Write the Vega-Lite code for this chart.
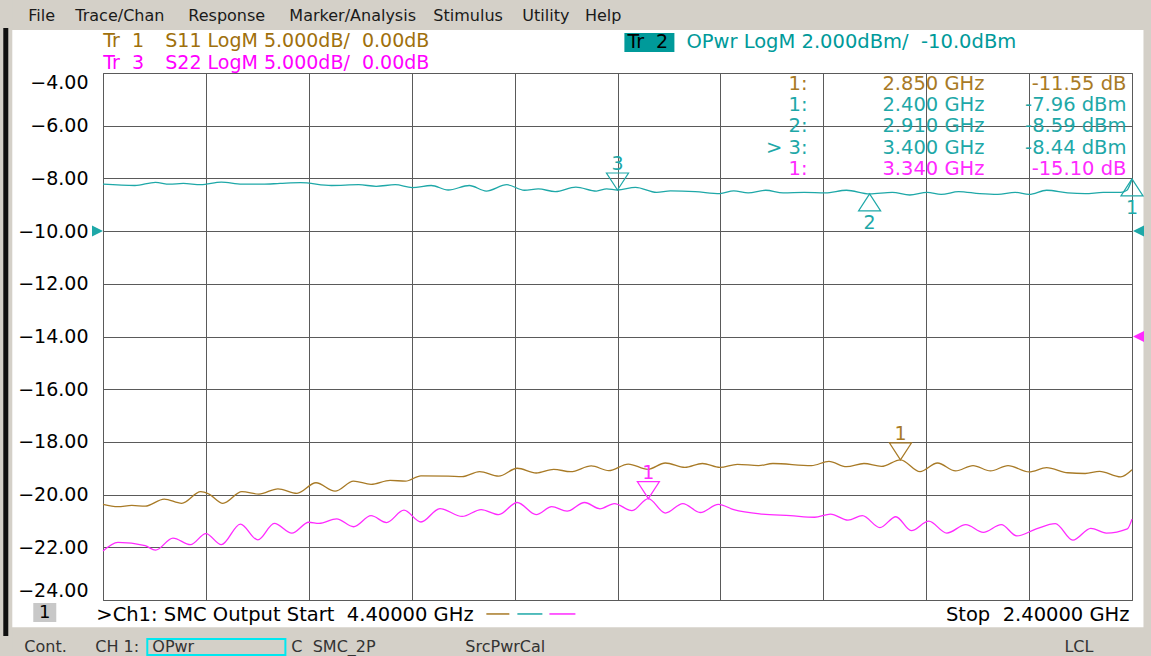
{
  "$schema": "https://vega.github.io/schema/vega-lite/v6.json",
  "width": 1029,
  "height": 527,
  "autosize": "none",
  "padding": {"left": 103, "top": 73, "right": 19, "bottom": 56},
  "background": "white",
  "config": {"view": {"stroke": "#5a5a5a", "strokeWidth": 1}},
  "datasets": {
    "one": [{}],
    "traces": [
      {"trace":"Tr2","freq":4.400,"value":-8.22},{"trace":"Tr2","freq":4.338,"value":-8.27},{"trace":"Tr2","freq":4.298,"value":-8.15},{"trace":"Tr2","freq":4.271,"value":-8.22},{"trace":"Tr2","freq":4.244,"value":-8.19},{"trace":"Tr2","freq":4.210,"value":-8.24},{"trace":"Tr2","freq":4.170,"value":-8.14},{"trace":"Tr2","freq":4.130,"value":-8.22},{"trace":"Tr2","freq":4.090,"value":-8.22},{"trace":"Tr2","freq":4.056,"value":-8.19},{"trace":"Tr2","freq":4.016,"value":-8.16},{"trace":"Tr2","freq":3.956,"value":-8.27},{"trace":"Tr2","freq":3.903,"value":-8.24},{"trace":"Tr2","freq":3.869,"value":-8.30},{"trace":"Tr2","freq":3.832,"value":-8.24},{"trace":"Tr2","freq":3.799,"value":-8.35},{"trace":"Tr2","freq":3.762,"value":-8.27},{"trace":"Tr2","freq":3.729,"value":-8.44},{"trace":"Tr2","freq":3.688,"value":-8.27},{"trace":"Tr2","freq":3.655,"value":-8.48},{"trace":"Tr2","freq":3.615,"value":-8.24},{"trace":"Tr2","freq":3.581,"value":-8.45},{"trace":"Tr2","freq":3.554,"value":-8.40},{"trace":"Tr2","freq":3.521,"value":-8.50},{"trace":"Tr2","freq":3.481,"value":-8.33},{"trace":"Tr2","freq":3.441,"value":-8.48},{"trace":"Tr2","freq":3.421,"value":-8.40},{"trace":"Tr2","freq":3.400,"value":-8.44},{"trace":"Tr2","freq":3.365,"value":-8.34},{"trace":"Tr2","freq":3.324,"value":-8.53},{"trace":"Tr2","freq":3.297,"value":-8.47},{"trace":"Tr2","freq":3.249,"value":-8.50},{"trace":"Tr2","freq":3.201,"value":-8.58},{"trace":"Tr2","freq":3.174,"value":-8.47},{"trace":"Tr2","freq":3.146,"value":-8.55},{"trace":"Tr2","freq":3.112,"value":-8.45},{"trace":"Tr2","freq":3.078,"value":-8.55},{"trace":"Tr2","freq":3.037,"value":-8.53},{"trace":"Tr2","freq":2.996,"value":-8.55},{"trace":"Tr2","freq":2.955,"value":-8.45},{"trace":"Tr2","freq":2.910,"value":-8.59},{"trace":"Tr2","freq":2.866,"value":-8.53},{"trace":"Tr2","freq":2.832,"value":-8.63},{"trace":"Tr2","freq":2.798,"value":-8.53},{"trace":"Tr2","freq":2.771,"value":-8.61},{"trace":"Tr2","freq":2.737,"value":-8.50},{"trace":"Tr2","freq":2.696,"value":-8.58},{"trace":"Tr2","freq":2.661,"value":-8.61},{"trace":"Tr2","freq":2.627,"value":-8.53},{"trace":"Tr2","freq":2.600,"value":-8.61},{"trace":"Tr2","freq":2.566,"value":-8.45},{"trace":"Tr2","freq":2.525,"value":-8.55},{"trace":"Tr2","freq":2.491,"value":-8.58},{"trace":"Tr2","freq":2.456,"value":-8.53},{"trace":"Tr2","freq":2.422,"value":-8.53},{"trace":"Tr2","freq":2.410,"value":-8.45},{"trace":"Tr2","freq":2.400,"value":-8.02},
      {"trace":"Tr1","freq":4.400,"value":-20.37},{"trace":"Tr1","freq":4.371,"value":-20.46},{"trace":"Tr1","freq":4.344,"value":-20.41},{"trace":"Tr1","freq":4.318,"value":-20.44},{"trace":"Tr1","freq":4.281,"value":-20.17},{"trace":"Tr1","freq":4.247,"value":-20.33},{"trace":"Tr1","freq":4.210,"value":-19.89},{"trace":"Tr1","freq":4.194,"value":-19.98},{"trace":"Tr1","freq":4.167,"value":-20.33},{"trace":"Tr1","freq":4.130,"value":-19.89},{"trace":"Tr1","freq":4.097,"value":-19.98},{"trace":"Tr1","freq":4.060,"value":-19.78},{"trace":"Tr1","freq":4.023,"value":-19.95},{"trace":"Tr1","freq":3.986,"value":-19.55},{"trace":"Tr1","freq":3.949,"value":-19.87},{"trace":"Tr1","freq":3.913,"value":-19.49},{"trace":"Tr1","freq":3.879,"value":-19.61},{"trace":"Tr1","freq":3.842,"value":-19.46},{"trace":"Tr1","freq":3.812,"value":-19.49},{"trace":"Tr1","freq":3.782,"value":-19.29},{"trace":"Tr1","freq":3.729,"value":-19.30},{"trace":"Tr1","freq":3.702,"value":-19.32},{"trace":"Tr1","freq":3.668,"value":-19.13},{"trace":"Tr1","freq":3.631,"value":-19.30},{"trace":"Tr1","freq":3.595,"value":-19.00},{"trace":"Tr1","freq":3.558,"value":-19.18},{"trace":"Tr1","freq":3.524,"value":-19.04},{"trace":"Tr1","freq":3.491,"value":-19.13},{"trace":"Tr1","freq":3.451,"value":-18.91},{"trace":"Tr1","freq":3.417,"value":-19.09},{"trace":"Tr1","freq":3.379,"value":-18.84},{"trace":"Tr1","freq":3.341,"value":-19.04},{"trace":"Tr1","freq":3.307,"value":-18.80},{"trace":"Tr1","freq":3.269,"value":-18.97},{"trace":"Tr1","freq":3.235,"value":-18.82},{"trace":"Tr1","freq":3.201,"value":-18.97},{"trace":"Tr1","freq":3.167,"value":-18.85},{"trace":"Tr1","freq":3.126,"value":-18.90},{"trace":"Tr1","freq":3.098,"value":-18.82},{"trace":"Tr1","freq":3.023,"value":-18.90},{"trace":"Tr1","freq":2.989,"value":-18.74},{"trace":"Tr1","freq":2.955,"value":-18.94},{"trace":"Tr1","freq":2.921,"value":-18.82},{"trace":"Tr1","freq":2.887,"value":-18.93},{"trace":"Tr1","freq":2.850,"value":-18.68},{"trace":"Tr1","freq":2.812,"value":-19.13},{"trace":"Tr1","freq":2.778,"value":-18.80},{"trace":"Tr1","freq":2.743,"value":-19.10},{"trace":"Tr1","freq":2.709,"value":-18.90},{"trace":"Tr1","freq":2.675,"value":-19.10},{"trace":"Tr1","freq":2.641,"value":-18.90},{"trace":"Tr1","freq":2.600,"value":-19.14},{"trace":"Tr1","freq":2.566,"value":-18.98},{"trace":"Tr1","freq":2.525,"value":-19.17},{"trace":"Tr1","freq":2.491,"value":-19.20},{"trace":"Tr1","freq":2.463,"value":-19.12},{"trace":"Tr1","freq":2.422,"value":-19.33},{"trace":"Tr1","freq":2.400,"value":-19.06},
      {"trace":"Tr3","freq":4.400,"value":-22.14},{"trace":"Tr3","freq":4.371,"value":-21.81},{"trace":"Tr3","freq":4.318,"value":-21.94},{"trace":"Tr3","freq":4.298,"value":-22.11},{"trace":"Tr3","freq":4.264,"value":-21.65},{"trace":"Tr3","freq":4.230,"value":-21.90},{"trace":"Tr3","freq":4.200,"value":-21.48},{"trace":"Tr3","freq":4.170,"value":-21.90},{"trace":"Tr3","freq":4.133,"value":-21.12},{"trace":"Tr3","freq":4.099,"value":-21.72},{"trace":"Tr3","freq":4.067,"value":-21.09},{"trace":"Tr3","freq":4.033,"value":-21.46},{"trace":"Tr3","freq":4.000,"value":-21.05},{"trace":"Tr3","freq":3.980,"value":-21.09},{"trace":"Tr3","freq":3.946,"value":-20.92},{"trace":"Tr3","freq":3.913,"value":-21.22},{"trace":"Tr3","freq":3.879,"value":-20.80},{"trace":"Tr3","freq":3.849,"value":-21.06},{"trace":"Tr3","freq":3.815,"value":-20.59},{"trace":"Tr3","freq":3.782,"value":-21.04},{"trace":"Tr3","freq":3.745,"value":-20.53},{"trace":"Tr3","freq":3.702,"value":-20.83},{"trace":"Tr3","freq":3.665,"value":-20.57},{"trace":"Tr3","freq":3.631,"value":-20.76},{"trace":"Tr3","freq":3.595,"value":-20.30},{"trace":"Tr3","freq":3.558,"value":-20.76},{"trace":"Tr3","freq":3.528,"value":-20.46},{"trace":"Tr3","freq":3.498,"value":-20.63},{"trace":"Tr3","freq":3.464,"value":-20.30},{"trace":"Tr3","freq":3.434,"value":-20.54},{"trace":"Tr3","freq":3.406,"value":-20.34},{"trace":"Tr3","freq":3.372,"value":-20.61},{"trace":"Tr3","freq":3.340,"value":-20.15},{"trace":"Tr3","freq":3.307,"value":-20.70},{"trace":"Tr3","freq":3.273,"value":-20.34},{"trace":"Tr3","freq":3.239,"value":-20.68},{"trace":"Tr3","freq":3.204,"value":-20.37},{"trace":"Tr3","freq":3.174,"value":-20.57},{"trace":"Tr3","freq":3.119,"value":-20.74},{"trace":"Tr3","freq":3.064,"value":-20.80},{"trace":"Tr3","freq":3.017,"value":-20.86},{"trace":"Tr3","freq":2.986,"value":-20.74},{"trace":"Tr3","freq":2.952,"value":-20.97},{"trace":"Tr3","freq":2.924,"value":-20.80},{"trace":"Tr3","freq":2.890,"value":-21.25},{"trace":"Tr3","freq":2.859,"value":-20.84},{"trace":"Tr3","freq":2.829,"value":-21.37},{"trace":"Tr3","freq":2.795,"value":-21.01},{"trace":"Tr3","freq":2.760,"value":-21.46},{"trace":"Tr3","freq":2.723,"value":-21.14},{"trace":"Tr3","freq":2.689,"value":-21.43},{"trace":"Tr3","freq":2.654,"value":-21.14},{"trace":"Tr3","freq":2.624,"value":-21.57},{"trace":"Tr3","freq":2.586,"value":-21.30},{"trace":"Tr3","freq":2.549,"value":-21.10},{"trace":"Tr3","freq":2.515,"value":-21.73},{"trace":"Tr3","freq":2.480,"value":-21.28},{"trace":"Tr3","freq":2.450,"value":-21.46},{"trace":"Tr3","freq":2.409,"value":-21.30},{"trace":"Tr3","freq":2.400,"value":-20.93}
    ],
    "markers": [
      {"trace":"Tr1","num":"1","freq":2.85,"display":-18.68,"row":0,"label":"1:","freqText":"2.850 GHz","valText":"-11.55 dB"},
      {"trace":"Tr2","num":"1","freq":2.40,"display":-8.02,"row":1,"label":"1:","freqText":"2.400 GHz","valText":"-7.96 dBm"},
      {"trace":"Tr2","num":"2","freq":2.91,"display":-8.59,"row":2,"label":"2:","freqText":"2.910 GHz","valText":"-8.59 dBm"},
      {"trace":"Tr2","num":"3","freq":3.40,"display":-8.44,"row":3,"label":"> 3:","freqText":"3.400 GHz","valText":"-8.44 dBm"},
      {"trace":"Tr3","num":"1","freq":3.34,"display":-20.15,"row":4,"label":"1:","freqText":"3.340 GHz","valText":"-15.10 dB"}
    ]
  },
  "layer": [
    {"data":{"name":"one"},"mark":{"type":"rect","fill":"#d4d0c8"},"encoding":{"x":{"datum":4.75},"x2":{"datum":2.3},"y":{"datum":-0.9},"y2":{"datum":-2.37}}},
    {"data":{"name":"one"},"mark":{"type":"rect","fill":"#d4d0c8"},"encoding":{"x":{"datum":4.75},"x2":{"datum":2.3},"y":{"datum":-25.03},"y2":{"datum":-26.6}}},
    {"data":{"name":"one"},"mark":{"type":"rect","fill":"#d4d0c8"},"encoding":{"x":{"datum":4.75},"x2":{"datum":4.5763},"y":{"datum":-0.9},"y2":{"datum":-26.6}}},
    {"data":{"name":"one"},"mark":{"type":"rect","fill":"#d4d0c8"},"encoding":{"x":{"datum":2.3777},"x2":{"datum":2.3},"y":{"datum":-0.9},"y2":{"datum":-26.6}}},
    {"data":{"name":"one"},"mark":{"type":"rect","fill":"#101010"},"encoding":{"x":{"datum":4.5938},"x2":{"datum":4.5841},"y":{"datum":-2.29},"y2":{"datum":-25.37}}},
    {
      "data":{"name":"traces"},
      "mark":{"type":"line","strokeWidth":1.3,"interpolate":"monotone"},
      "encoding":{
        "x":{"field":"freq","type":"quantitative","scale":{"domain":[2.4,4.4],"reverse":true,"nice":false,"zero":false},
             "axis":{"values":[2.4,2.6,2.8,3.0,3.2,3.4,3.6,3.8,4.0,4.2,4.4],"labels":false,"ticks":false,"domain":false,"title":null,"grid":true,"gridColor":"#5a5a5a","gridOpacity":1,"gridWidth":1}},
        "y":{"field":"value","type":"quantitative","scale":{"domain":[-24,-4],"nice":false,"zero":false},
             "axis":{"values":[-24,-22,-20,-18,-16,-14,-12,-10,-8,-6,-4],"format":".2f","labelFont":"DejaVu Sans","labelFontSize":19,"labelColor":"#000000","labelPadding":15,"labelFlush":true,"ticks":false,"domain":false,"title":null,"grid":true,"gridColor":"#5a5a5a","gridOpacity":1,"gridWidth":1}},
        "color":{"field":"trace","type":"nominal","scale":{"domain":["Tr1","Tr2","Tr3"],"range":["#a87a26","#1ea8a8","#ff2aff"]},"legend":null},
        "detail":{"field":"trace"}
      }
    },
    {
      "data":{"name":"markers"},
      "transform":[{"filter":"datum.trace != 'Tr2' || datum.num == '3'"}],
      "mark":{"type":"point","filled":false,"strokeWidth":1.2,"size":1156,"shape":"M0,0L-0.65,-1L0.65,-1Z","opacity":1},
      "encoding":{"x":{"field":"freq","type":"quantitative"},"y":{"field":"display","type":"quantitative"},"color":{"field":"trace","type":"nominal"}}
    },
    {
      "data":{"name":"markers"},
      "transform":[{"filter":"datum.trace == 'Tr2' && datum.num != '3'"}],
      "mark":{"type":"point","filled":false,"strokeWidth":1.2,"size":1156,"shape":"M0,0L-0.65,1L0.65,1Z","opacity":1},
      "encoding":{"x":{"field":"freq","type":"quantitative"},"y":{"field":"display","type":"quantitative"},"color":{"field":"trace","type":"nominal"}}
    },
    {
      "data":{"name":"markers"},
      "transform":[{"filter":"datum.trace != 'Tr2' || datum.num == '3'"}],
      "mark":{"type":"text","font":"DejaVu Sans","fontSize":19,"baseline":"middle","align":"center","dy":-26},
      "encoding":{"x":{"field":"freq","type":"quantitative"},"y":{"field":"display","type":"quantitative"},"color":{"field":"trace","type":"nominal"},"text":{"field":"num"}}
    },
    {
      "data":{"name":"markers"},
      "transform":[{"filter":"datum.trace == 'Tr2' && datum.num != '3'"}],
      "mark":{"type":"text","font":"DejaVu Sans","fontSize":19,"baseline":"middle","align":"center","dy":29},
      "encoding":{"x":{"field":"freq","type":"quantitative"},"y":{"field":"display","type":"quantitative"},"color":{"field":"trace","type":"nominal"},"text":{"field":"num"}}
    },
    {
      "data":{"name":"markers"},
      "mark":{"type":"text","font":"DejaVu Sans","fontSize":19.5,"baseline":"middle","align":"right"},
      "encoding":{"x":{"datum":3.0308},"y":{"datum":-4.417},"yOffset":{"field":"row","type":"quantitative","scale":{"domain":[0,4],"range":[0,85]}},"color":{"field":"trace","type":"nominal"},"text":{"field":"label"}}
    },
    {
      "data":{"name":"markers"},
      "mark":{"type":"text","font":"DejaVu Sans","fontSize":19.5,"baseline":"middle","align":"right"},
      "encoding":{"x":{"datum":2.6867},"y":{"datum":-4.417},"yOffset":{"field":"row","type":"quantitative","scale":{"domain":[0,4],"range":[0,85]}},"color":{"field":"trace","type":"nominal"},"text":{"field":"freqText"}}
    },
    {
      "data":{"name":"markers"},
      "mark":{"type":"text","font":"DejaVu Sans","fontSize":19.5,"baseline":"middle","align":"right"},
      "encoding":{"x":{"datum":2.4107},"y":{"datum":-4.417},"yOffset":{"field":"row","type":"quantitative","scale":{"domain":[0,4],"range":[0,85]}},"color":{"field":"trace","type":"nominal"},"text":{"field":"valText"}}
    },
    {"data":{"name":"one"},"mark":{"type":"point","filled":true,"size":121,"shape":"M1,0L-1,-1L-1,1Z","color":"#1ea8a8","opacity":1},"encoding":{"x":{"datum":4.4107},"y":{"datum":-10}}},
    {"data":{"name":"one"},"mark":{"type":"point","filled":true,"size":121,"shape":"M-1,0L1,-1L1,1Z","color":"#1ea8a8","opacity":1},"encoding":{"x":{"datum":2.3874},"y":{"datum":-10}}},
    {"data":{"name":"one"},"mark":{"type":"point","filled":true,"size":121,"shape":"M-1,0L1,-1L1,1Z","color":"#ff2aff","opacity":1},"encoding":{"x":{"datum":2.3874},"y":{"datum":-14}}},

    {"data":{"name":"one"},"mark":{"type":"text","font":"DejaVu Sans","fontSize":16,"align":"left","baseline":"middle","color":"#1a1a1a"},"encoding":{"x":{"datum":4.5452},"y":{"datum":-1.83},"text":{"value":"File"}}},
    {"data":{"name":"one"},"mark":{"type":"text","font":"DejaVu Sans","fontSize":16,"align":"left","baseline":"middle","color":"#1a1a1a"},"encoding":{"x":{"datum":4.4538},"y":{"datum":-1.83},"text":{"value":"Trace/Chan"}}},
    {"data":{"name":"one"},"mark":{"type":"text","font":"DejaVu Sans","fontSize":16,"align":"left","baseline":"middle","color":"#1a1a1a"},"encoding":{"x":{"datum":4.2342},"y":{"datum":-1.83},"text":{"value":"Response"}}},
    {"data":{"name":"one"},"mark":{"type":"text","font":"DejaVu Sans","fontSize":16,"align":"left","baseline":"middle","color":"#1a1a1a"},"encoding":{"x":{"datum":4.0378},"y":{"datum":-1.83},"text":{"value":"Marker/Analysis"}}},
    {"data":{"name":"one"},"mark":{"type":"text","font":"DejaVu Sans","fontSize":16,"align":"left","baseline":"middle","color":"#1a1a1a"},"encoding":{"x":{"datum":3.7579},"y":{"datum":-1.83},"text":{"value":"Stimulus"}}},
    {"data":{"name":"one"},"mark":{"type":"text","font":"DejaVu Sans","fontSize":16,"align":"left","baseline":"middle","color":"#1a1a1a"},"encoding":{"x":{"datum":3.5849},"y":{"datum":-1.83},"text":{"value":"Utility"}}},
    {"data":{"name":"one"},"mark":{"type":"text","font":"DejaVu Sans","fontSize":16,"align":"left","baseline":"middle","color":"#1a1a1a"},"encoding":{"x":{"datum":3.4634},"y":{"datum":-1.83},"text":{"value":"Help"}}},

    {"data":{"name":"one"},"mark":{"type":"text","font":"DejaVu Sans","fontSize":19,"align":"left","baseline":"middle","color":"#a0700c"},"encoding":{"x":{"datum":4.3994},"y":{"datum":-2.80},"text":{"value":"Tr\u00a0 1"}}},
    {"data":{"name":"one"},"mark":{"type":"text","font":"DejaVu Sans","fontSize":19,"align":"left","baseline":"middle","color":"#a0700c"},"encoding":{"x":{"datum":4.2789},"y":{"datum":-2.80},"text":{"value":"S11 LogM 5.000dB/\u00a0 0.00dB"}}},
    {"data":{"name":"one"},"mark":{"type":"text","font":"DejaVu Sans","fontSize":19,"align":"left","baseline":"middle","color":"#ff00ff"},"encoding":{"x":{"datum":4.3994},"y":{"datum":-3.62},"text":{"value":"Tr\u00a0 3"}}},
    {"data":{"name":"one"},"mark":{"type":"text","font":"DejaVu Sans","fontSize":19,"align":"left","baseline":"middle","color":"#ff00ff"},"encoding":{"x":{"datum":4.2789},"y":{"datum":-3.62},"text":{"value":"S22 LogM 5.000dB/\u00a0 0.00dB"}}},
    {"data":{"name":"one"},"mark":{"type":"rect","fill":"#009a9a"},"encoding":{"x":{"datum":3.3866},"x2":{"datum":3.2894},"y":{"datum":-2.482},"y2":{"datum":-3.203}}},
    {"data":{"name":"one"},"mark":{"type":"text","font":"DejaVu Sans","fontSize":19,"align":"left","baseline":"middle","color":"#000000"},"encoding":{"x":{"datum":3.3808},"y":{"datum":-2.84},"text":{"value":"Tr\u00a0 2"}}},
    {"data":{"name":"one"},"mark":{"type":"text","font":"DejaVu Sans","fontSize":19.5,"align":"left","baseline":"middle","color":"#009a9a"},"encoding":{"x":{"datum":3.2661},"y":{"datum":-2.84},"text":{"value":"OPwr LogM 2.000dBm/\u00a0 -10.0dBm"}}},

    {"data":{"name":"one"},"mark":{"type":"rect","fill":"#c8c8c8"},"encoding":{"x":{"datum":4.5355},"x2":{"datum":4.4908},"y":{"datum":-24.114},"y2":{"datum":-24.835}}},
    {"data":{"name":"one"},"mark":{"type":"text","font":"DejaVu Sans","fontSize":18,"align":"center","baseline":"middle","color":"#000000"},"encoding":{"x":{"datum":4.5131},"y":{"datum":-24.49},"text":{"value":"1"}}},
    {"data":{"name":"one"},"mark":{"type":"text","font":"DejaVu Sans","fontSize":19.5,"align":"left","baseline":"middle","color":"#000000"},"encoding":{"x":{"datum":4.4130},"y":{"datum":-24.57},"text":{"value":">Ch1: SMC Output Start\u00a0 4.40000 GHz"}}},
    {"data":{"name":"one"},"mark":{"type":"rule","color":"#a87a26","strokeWidth":1.5},"encoding":{"x":{"datum":3.6549},"x2":{"datum":3.6102},"y":{"datum":-24.53}}},
    {"data":{"name":"one"},"mark":{"type":"rule","color":"#1ea8a8","strokeWidth":1.5},"encoding":{"x":{"datum":3.5946},"x2":{"datum":3.5460},"y":{"datum":-24.53}}},
    {"data":{"name":"one"},"mark":{"type":"rule","color":"#ff2aff","strokeWidth":1.5},"encoding":{"x":{"datum":3.5324},"x2":{"datum":3.4818},"y":{"datum":-24.53}}},
    {"data":{"name":"one"},"mark":{"type":"text","font":"DejaVu Sans","fontSize":19.5,"align":"right","baseline":"middle","color":"#000000"},"encoding":{"x":{"datum":2.4049},"y":{"datum":-24.57},"text":{"value":"Stop\u00a0 2.40000 GHz"}}},

    {"data":{"name":"one"},"mark":{"type":"rect","fill":"#d4d0c8","stroke":"#00e8f0","strokeWidth":2},"encoding":{"x":{"datum":4.3139},"x2":{"datum":4.0455},"y":{"datum":-25.48},"y2":{"datum":-26.09}}},
    {"data":{"name":"one"},"mark":{"type":"text","font":"DejaVu Sans","fontSize":16,"align":"left","baseline":"middle","color":"#333333"},"encoding":{"x":{"datum":4.5530},"y":{"datum":-25.78},"text":{"value":"Cont."}}},
    {"data":{"name":"one"},"mark":{"type":"text","font":"DejaVu Sans","fontSize":16,"align":"left","baseline":"middle","color":"#333333"},"encoding":{"x":{"datum":4.4150},"y":{"datum":-25.78},"text":{"value":"CH 1:"}}},
    {"data":{"name":"one"},"mark":{"type":"text","font":"DejaVu Sans","fontSize":16,"align":"left","baseline":"middle","color":"#333333"},"encoding":{"x":{"datum":4.3042},"y":{"datum":-25.78},"text":{"value":"OPwr"}}},
    {"data":{"name":"one"},"mark":{"type":"text","font":"DejaVu Sans","fontSize":16,"align":"left","baseline":"middle","color":"#333333"},"encoding":{"x":{"datum":4.0339},"y":{"datum":-25.78},"text":{"value":"C\u00a0 SMC_2P"}}},
    {"data":{"name":"one"},"mark":{"type":"text","font":"DejaVu Sans","fontSize":16,"align":"left","baseline":"middle","color":"#333333"},"encoding":{"x":{"datum":3.6957},"y":{"datum":-25.78},"text":{"value":"SrcPwrCal"}}},
    {"data":{"name":"one"},"mark":{"type":"text","font":"DejaVu Sans","fontSize":16,"align":"left","baseline":"middle","color":"#333333"},"encoding":{"x":{"datum":2.5313},"y":{"datum":-25.78},"text":{"value":"LCL"}}}
  ]
}
